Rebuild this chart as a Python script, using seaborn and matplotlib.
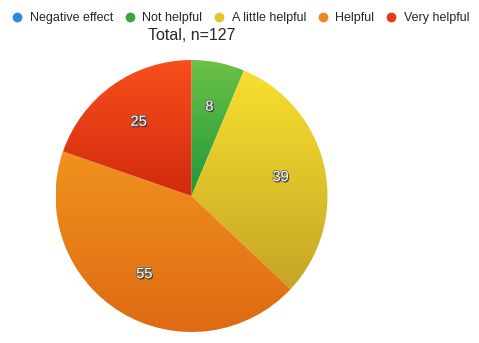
import numpy as np
import matplotlib
matplotlib.use("Agg")
import matplotlib.pyplot as plt
import matplotlib.patheffects as pe
from matplotlib.colors import LinearSegmentedColormap
from matplotlib.lines import Line2D
import seaborn as sns

categories = ["Negative effect", "Not helpful", "A little helpful", "Helpful", "Very helpful"]
counts = [0, 8, 39, 55, 25]
title = "Total, n=127"

legend_colors = ["#2f86e2", "#3aa63a", "#e4c426", "#ec8622", "#e23c12"]
# (top, bottom) shades for each wedge's vertical gradient
wedge_shades = [
    ("#4aa0f0", "#1e6cc8"),
    ("#6cc148", "#1f983a"),
    ("#f8e02e", "#c6a526"),
    ("#f0921e", "#de6a12"),
    ("#f94f1c", "#d02a0e"),
]

sns.set_style("white")
plt.rcParams["font.family"] = ["Liberation Sans", "DejaVu Sans"]

fig = plt.figure(figsize=(4.79, 3.43), dpi=100)
ax = fig.add_axes([55.5 / 479, 11 / 343, 272 / 479, 272 / 343])

wedges, texts = ax.pie(
    counts, startangle=90, counterclock=False, radius=1.0,
    labels=[str(c) if c > 0 else "" for c in counts],
    labeldistance=0.67,
    wedgeprops=dict(linewidth=0),
    textprops=dict(color="white", fontsize=10.5),
)

for w, (top, bot), c in zip(wedges, wedge_shades, counts):
    if c == 0:
        continue
    w.set_facecolor("none")
    bb = w.get_path().get_extents(w.get_transform() + ax.transData.inverted())
    cmap = LinearSegmentedColormap.from_list("g", [bot, top])
    grad = np.linspace(0, 1, 256).reshape(-1, 1)
    im = ax.imshow(grad, cmap=cmap, origin="lower", aspect="auto",
                   extent=[bb.x0, bb.x1, bb.y0, bb.y1], interpolation="bilinear")
    im.set_clip_path(w)

for t in texts:
    t.set_ha("center")
    t.set_va("center")
    t.set_path_effects([pe.withSimplePatchShadow(offset=(0.8, -1.0), shadow_rgbFace="#222222", alpha=0.8),
                        pe.Stroke(linewidth=1.0, foreground="#555555"), pe.Normal()])
    t.set_zorder(5)

ax.set_xlim(-1, 1)
ax.set_ylim(-1, 1)
ax.set_aspect("equal")
ax.axis("off")

handles = [Line2D([0], [0], marker="o", linestyle="", markersize=6,
                  markerfacecolor=col, markeredgecolor=col) for col in legend_colors]
fig.legend(handles, categories, loc="upper center", bbox_to_anchor=(240 / 479, 1.0),
           ncol=5, frameon=False, fontsize=9, handletextpad=0.5, columnspacing=0.85,
           handlelength=1.0, borderaxespad=0.6)

fig.text(191.5 / 479, 1 - 35.5 / 343, title, ha="center", va="center", fontsize=11.5)

fig.savefig("out.png", dpi=100)
